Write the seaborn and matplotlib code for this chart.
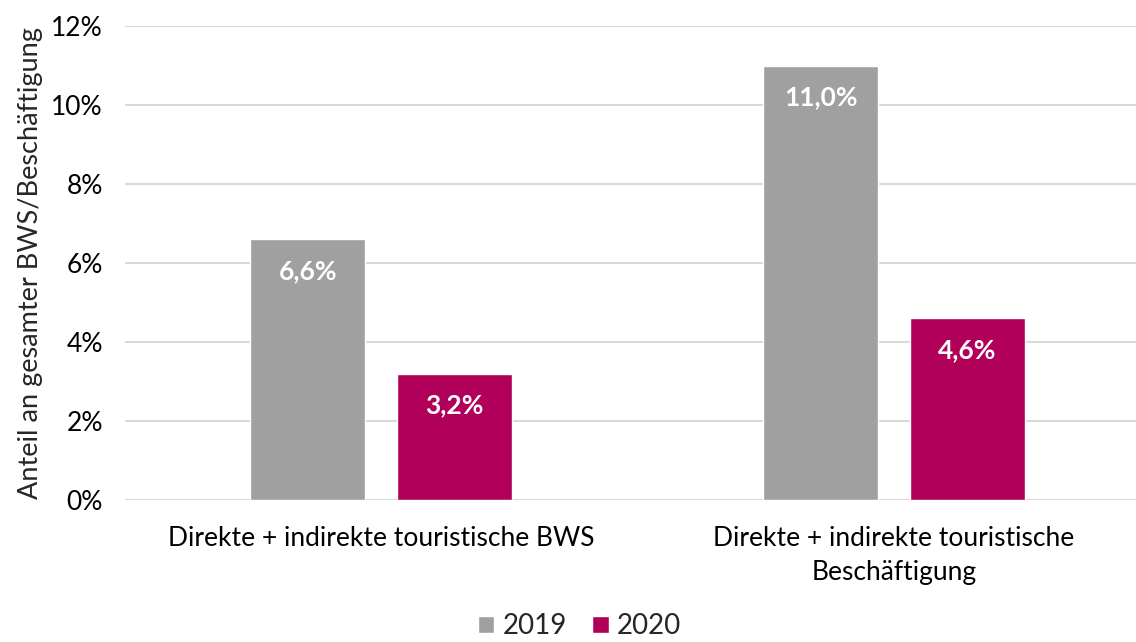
import pandas as pd
import matplotlib.pyplot as plt
import seaborn as sns
from matplotlib.ticker import FuncFormatter
from matplotlib.patches import Patch

# data
categories = ['Direkte + indirekte touristische BWS',
              'Direkte + indirekte touristische\nBeschäftigung']
years = ['2019', '2020']
values_2019 = [6.6, 11.0]
values_2020 = [3.2, 4.6]
colors = {'2019': '#A0A0A0', '2020': '#B0005A'}

df = pd.DataFrame({
    'Kategorie': categories * 2,
    'Jahr': [years[0]] * 2 + [years[1]] * 2,
    'Wert': values_2019 + values_2020,
})

sns.set_theme(style='white')
plt.rcParams['font.family'] = ['Lato', 'DejaVu Sans']

fig = plt.figure(figsize=(11.36, 6.42), dpi=100)
ax = fig.add_axes([125 / 1136, 142 / 642, 1011 / 1136, 474 / 642])

sns.barplot(data=df, x='Kategorie', y='Wert', hue='Jahr', order=categories,
            hue_order=years, palette=colors, width=0.571, gap=0.216,
            saturation=1, ax=ax, legend=False)

ax.set_xlim(-0.499, 1.472)
ax.set_ylim(0, 12)
ax.set_yticks(range(0, 13, 2))
ax.yaxis.set_major_formatter(FuncFormatter(lambda v, p: f'{v:.0f}%'))
ax.grid(axis='y', color='#D9D9D9', linewidth=1.5)
ax.set_axisbelow(True)
for s in ax.spines.values():
    s.set_visible(False)
ax.tick_params(axis='both', length=0, labelsize=19, colors='black')
ax.tick_params(axis='y', pad=16)
ax.tick_params(axis='x', pad=19)
for lbl in ax.get_xticklabels():
    lbl.set_linespacing(1.45)
ax.set_xlabel('')
ax.set_ylabel('Anteil an gesamter BWS/Beschäftigung', fontsize=19.5, labelpad=6)

# data labels inside the bars
for bar in ax.patches:
    h = bar.get_height()
    if h <= 0:
        continue
    ax.text(bar.get_x() + bar.get_width() / 2, h - 0.8,
            f'{h:.1f}'.replace('.', ',') + '%', ha='center', va='center',
            color='white', fontsize=19, fontweight='bold')

handles = [Patch(facecolor=colors[y], label=y) for y in years]
fig.legend(handles=handles, loc='lower center', bbox_to_anchor=(0.51, -0.035),
           ncol=2, frameon=False, fontsize=20, handlelength=0.6,
           handleheight=0.6, columnspacing=0.9, handletextpad=0.3)

fig.savefig('out.png', dpi=100)
